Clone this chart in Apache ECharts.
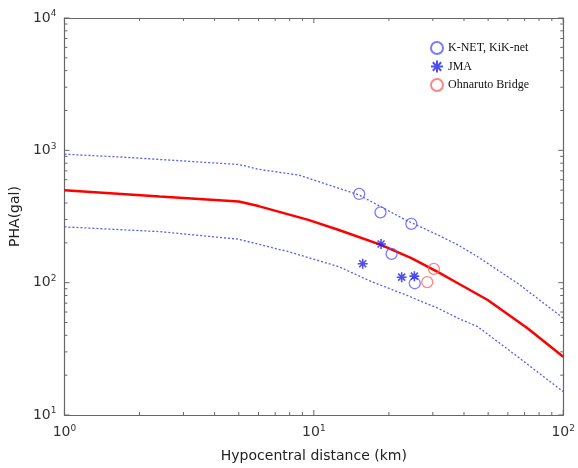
<!DOCTYPE html>
<html>
<head>
<meta charset="utf-8">
<title>PHA vs hypocentral distance</title>
<script src="https://cdn.jsdelivr.net/npm/echarts@6/dist/echarts.min.js"></script>
<style>
  html, body { margin: 0; padding: 0; background: #fff; }
  #main { width: 578px; height: 468px; }
</style>
</head>
<body>
<div id="main"></div>
<script type="text/javascript">
// attenuation curve (median) and +/- bands, [distance km, PHA gal]
var medianCurve = [[1, 500], [2.41, 447], [5, 410], [6, 379], [9.5, 298], [12.6, 250],
    [18.6, 193], [24.6, 153], [31.5, 120], [37.8, 99], [49.8, 74], [71.9, 45.2], [100, 27.6]];
var upperCurve = [[1, 935], [1.67, 891], [5, 782], [6, 719], [8.7, 650], [15.1, 462],
    [23.3, 298], [31.5, 229], [37.8, 193], [45.4, 157], [65.6, 99], [100, 54]];
var lowerCurve = [[1, 264], [2.41, 243], [5, 213], [6, 195], [7.95, 171], [12.6, 132],
    [17, 102], [23.3, 81], [31.5, 64], [37.8, 54], [45.4, 46.5], [65.6, 27.6], [100, 15]];
// observations
var knetPoints = [[15.2, 468], [18.5, 340], [24.6, 278], [20.5, 165], [25.4, 99]];
var jmaPoints = [[18.6, 196], [15.7, 139], [22.5, 110], [25.3, 112]];
var ohnarutoPoints = [[30.3, 127], [28.5, 101]];
var legendNames = ['K-NET, KiK-net', 'JMA', 'Ohnaruto Bridge'];

// axis ranges (decades)
var xDecades = [1, 10, 100];
var yDecades = [10, 100, 1000, 10000];

var myChart = echarts.init(document.getElementById('main'));

var sansFont = '"DejaVu Sans", "Liberation Sans", sans-serif';
function powLabel(v) {
    var e = Math.round(Math.log(v) / Math.LN10);
    return '{b|10}{s|' + e + '}';
}
var labelRich = {
    b: { fontSize: 14, color: '#333', fontFamily: sansFont },
    s: { fontSize: 9, color: '#333', fontFamily: sansFont, verticalAlign: 'top', padding: [0, 0, 8, 0] }
};
var axisLineStyle = { color: '#666', width: 1.2 };

function logAxis(extra) {
    var a = {
        type: 'log',
        logBase: 10,
        axisLine: { show: true, onZero: false, lineStyle: axisLineStyle },
        axisTick: { show: false },
        splitLine: { show: false }
    };
    for (var k in extra) a[k] = extra[k];
    return a;
}

// tick values 1..9 x 10^n inside each axis range, [value, isMajor]
function tickList(decades) {
    var out = [];
    for (var i = 0; i < decades.length; i++) {
        var d = decades[i];
        out.push([d, 1]);
        if (i < decades.length - 1) {
            for (var m = 2; m <= 9; m++) out.push([m * d, 0]);
        }
    }
    return out;
}
var xTicks = tickList(xDecades);
var yTicks = tickList(yDecades);
var xMin = xDecades[0], xMax = xDecades[xDecades.length - 1];
var yMin = yDecades[0], yMax = yDecades[yDecades.length - 1];

function tickSeries(ticks, isX) {
    return {
        type: 'custom',
        silent: true,
        clip: false,
        z: 1,
        data: ticks,
        encode: isX ? { x: 0 } : { y: 0 },
        renderItem: function (params, api) {
            var v = api.value(0);
            var len = api.value(1) ? 5 : 3;
            var style = { stroke: '#666', lineWidth: 1 };
            var a, b;
            if (isX) {
                a = api.coord([v, yMin]);
                b = api.coord([v, yMax]);
                return {
                    type: 'group', children: [
                        { type: 'line', shape: { x1: a[0], y1: a[1], x2: a[0], y2: a[1] - len }, style: style },
                        { type: 'line', shape: { x1: b[0], y1: b[1], x2: b[0], y2: b[1] + len }, style: style }
                    ]
                };
            }
            a = api.coord([xMin, v]);
            b = api.coord([xMax, v]);
            return {
                type: 'group', children: [
                    { type: 'line', shape: { x1: a[0], y1: a[1], x2: a[0] + len, y2: a[1] }, style: style },
                    { type: 'line', shape: { x1: b[0], y1: b[1], x2: b[0] - len, y2: b[1] }, style: style }
                ]
            };
        }
    };
}

var asterisk = 'path://M5,0L5,10M0,5L10,5M1.5,1.5L8.5,8.5M1.5,8.5L8.5,1.5';

myChart.setOption({
    animation: false,
    backgroundColor: '#fff',
    grid: { left: 64, right: 12, top: 18, bottom: 53 },
    legend: {
        data: legendNames,
        orient: 'vertical',
        left: 425,
        top: 36,
        itemGap: 4.5,
        itemWidth: 12,
        itemHeight: 12,
        textStyle: { fontFamily: '"Liberation Serif", "DejaVu Serif", serif', fontSize: 12, color: '#111' }
    },
    xAxis: [
        logAxis({
            min: xMin, max: xMax,
            name: 'Hypocentral distance (km)',
            nameLocation: 'middle',
            nameGap: 34,
            nameTextStyle: { fontFamily: sansFont, fontSize: 14, color: '#222' },
            axisLabel: { formatter: powLabel, rich: labelRich, margin: 9 }
        }),
        logAxis({ min: xMin, max: xMax, position: 'top', axisLabel: { show: false } })
    ],
    yAxis: [
        logAxis({
            min: yMin, max: yMax,
            name: 'PHA(gal)',
            nameLocation: 'middle',
            nameGap: 37,
            nameTextStyle: { fontFamily: sansFont, fontSize: 14, color: '#222' },
            axisLabel: { formatter: powLabel, rich: labelRich, margin: 8 }
        }),
        logAxis({ min: yMin, max: yMax, position: 'right', axisLabel: { show: false } })
    ],
    series: [
        tickSeries(xTicks, true),
        tickSeries(yTicks, false),
        {
            name: 'upper', type: 'line', data: upperCurve, showSymbol: false, symbol: 'none',
            lineStyle: { color: '#5560ee', width: 1.3, type: [2, 2] }, z: 2
        },
        {
            name: 'lower', type: 'line', data: lowerCurve, showSymbol: false, symbol: 'none',
            lineStyle: { color: '#5560ee', width: 1.3, type: [2, 2] }, z: 2
        },
        {
            name: 'median', type: 'line', data: medianCurve, showSymbol: false, symbol: 'none',
            lineStyle: { color: '#ff0000', width: 2.5 }, z: 3
        },
        {
            name: legendNames[0], type: 'scatter', data: knetPoints, symbol: 'circle', symbolSize: 11,
            itemStyle: { color: 'rgba(0,0,0,0)', borderColor: '#5a5aff', borderWidth: 1.3 }, z: 4
        },
        {
            name: legendNames[1], type: 'scatter', data: jmaPoints, symbol: asterisk, symbolSize: 10,
            itemStyle: { color: '#2222ee', borderColor: '#2222ee', borderWidth: 1.6 }, z: 5
        },
        {
            name: legendNames[2], type: 'scatter', data: ohnarutoPoints, symbol: 'circle', symbolSize: 11,
            itemStyle: { color: 'rgba(0,0,0,0)', borderColor: '#ff6666', borderWidth: 1.3 }, z: 4
        }
    ]
});
</script>
</body>
</html>
